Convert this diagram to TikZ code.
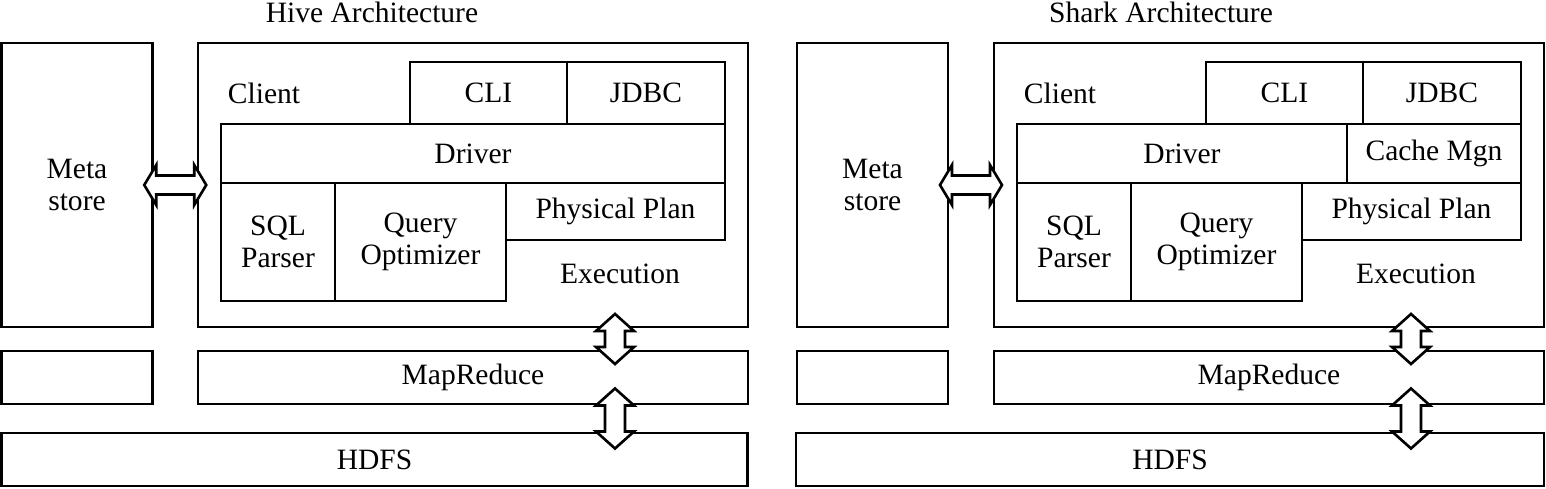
\documentclass[tikz,border=0pt]{standalone}
\usepackage{fontspec}
\setmainfont{Liberation Serif}
\usetikzlibrary{positioning, calc}

\tikzset{
  blk/.style={draw, line width=1.5pt, outer sep=0pt, inner sep=0pt, align=center},
  lbl/.style={inner sep=0pt, align=center},
  pics/hdarrow/.style={code={
    \draw[line width=1.5pt, fill=white] (-31,0) -- (-19,-20) -- (-19,-9.5) -- (19,-9.5) -- (19,-20) -- (31,0)
      -- (19,20) -- (19,9.5) -- (-19,9.5) -- (-19,20) -- cycle;}},
  pics/vdarrow/.style={code={
    \draw[line width=1.5pt, fill=white] (0,-#1) -- (19,{-#1+17}) -- (10,{-#1+17}) -- (10,{#1-17}) -- (19,{#1-17})
      -- (0,#1) -- (-19,{#1-17}) -- (-10,{#1-17}) -- (-10,{-#1+17}) -- (-19,{-#1+17}) -- cycle;}},
}

\begin{document}
\begin{tikzpicture}[x=0.2mm, y=-0.2mm, every node/.style={font=\fontsize{16.8}{18}\selectfont}]
  \useasboundingbox (0,0) rectangle (1546,489);

  % Hive
  \node[lbl] (htitle) at (372,12) {Hive Architecture};
  \node[blk, minimum width=30.2mm, minimum height=56.8mm] (hmeta) at (77,185) {Meta\\store};
  \node[blk, minimum width=110mm, minimum height=56.8mm] (hive) at (473,185) {};
  \node[lbl] (hclient) at (264,93) {Client};
  \node[blk, minimum width=31.4mm, minimum height=12.4mm] (hcli) at (488.5,93) {CLI};
  \node[blk, minimum width=31.6mm, minimum height=12.4mm, right=0pt of hcli] (hjdbc) {JDBC};
  \node[blk, minimum width=100.8mm, minimum height=11.8mm, anchor=north east] (hdriver) at (hjdbc.south east) {Driver};
  \node[blk, minimum width=22.8mm, minimum height=23.6mm, anchor=north west] (hsql) at (hdriver.south west) {SQL\\Parser};
  \node[blk, minimum width=34.2mm, minimum height=23.6mm, right=0pt of hsql] (hqopt) {Query\\Optimizer};
  \node[blk, minimum width=43.8mm, minimum height=11.4mm, anchor=north west] (hphys) at (hqopt.north east) {Physical Plan};
  \node[lbl] (hexec) at (620,274) {Execution};
  \node[blk, minimum width=30.2mm, minimum height=10.6mm] (hside) at (77,377.5) {};
  \node[blk, minimum width=110mm, minimum height=10.6mm] (hmr) at (473,377.5) {MapReduce};
  \node[blk, minimum width=149.2mm, minimum height=10.6mm] (hhdfs) at (374.5,459.5) {HDFS};
  \pic at ($(hmeta.east)!0.5!(hive.west)$) {hdarrow};
  \pic at ([xshift=-1mm]hexec |- {$(hive.south)!0.5!(hmr.north)$}) {vdarrow=25};
  \pic at ([xshift=-1mm]hexec |- {$(hmr.south)!0.5!(hhdfs.north)$}) {vdarrow=30};

  % Shark
  \node[lbl] (stitle) at (1161,12) {Shark Architecture};
  \node[blk, minimum width=30.2mm, minimum height=56.8mm] (smeta) at (872.5,185) {Meta\\store};
  \node[blk, minimum width=110mm, minimum height=56.8mm] (shark) at (1269,185) {};
  \node[lbl] (sclient) at (1060,93) {Client};
  \node[blk, minimum width=31.4mm, minimum height=12.4mm] (scli) at (1284.5,93) {CLI};
  \node[blk, minimum width=31.6mm, minimum height=12.4mm, right=0pt of scli] (sjdbc) {JDBC};
  \node[blk, minimum width=34.8mm, minimum height=11.8mm, anchor=north east] (scache) at (sjdbc.south east) {Cache Mgn};
  \node[blk, minimum width=66mm, minimum height=11.8mm, left=0pt of scache] (sdriver) {Driver};
  \node[blk, minimum width=22.8mm, minimum height=23.6mm, anchor=north west] (ssql) at (sdriver.south west) {SQL\\Parser};
  \node[blk, minimum width=34.2mm, minimum height=23.6mm, right=0pt of ssql] (sqopt) {Query\\Optimizer};
  \node[blk, minimum width=43.8mm, minimum height=11.4mm, anchor=north west] (sphys) at (sqopt.north east) {Physical Plan};
  \node[lbl] (sexec) at (1416,274) {Execution};
  \node[blk, minimum width=30.2mm, minimum height=10.6mm] (sside) at (872.5,377.5) {};
  \node[blk, minimum width=110mm, minimum height=10.6mm] (smr) at (1269,377.5) {MapReduce};
  \node[blk, minimum width=149.6mm, minimum height=10.6mm] (shdfs) at (1170,459.5) {HDFS};
  \pic at ($(smeta.east)!0.5!(shark.west)$) {hdarrow};
  \pic at ([xshift=-1mm]sexec |- {$(shark.south)!0.5!(smr.north)$}) {vdarrow=25};
  \pic at ([xshift=-1mm]sexec |- {$(smr.south)!0.5!(shdfs.north)$}) {vdarrow=30};
\end{tikzpicture}
\end{document}
